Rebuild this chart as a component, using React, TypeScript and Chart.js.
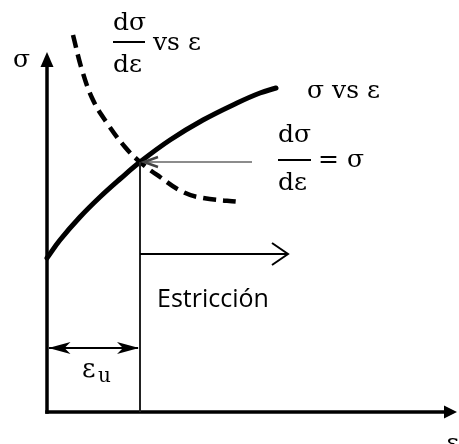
import { useEffect, useRef } from "react";
import { Chart, registerables } from "chart.js";

Chart.register(...registerables);

// True stress–strain curve σ(ε), arbitrary units
const SIGMA_EPS = [0, 0.13, 0.33, 0.53, 0.73, 0.93, 1.23, 1.56, 1.9, 2.13, 2.29];
const SIGMA_VAL = [1.54, 1.72, 1.95, 2.15, 2.33, 2.5, 2.72, 2.92, 3.09, 3.19, 3.24];

// Work-hardening rate dσ/dε
const SLOPE_EPS = [0.26, 0.35, 0.46, 0.6, 0.78, 0.93, 1.13, 1.36, 1.56, 1.94];
const SLOPE_VAL = [3.77, 3.42, 3.12, 2.89, 2.65, 2.5, 2.35, 2.2, 2.14, 2.1];

// Considère point: dσ/dε = σ at the uniform strain ε_u
const EPS_U = 0.93;
const SIGMA_U = 2.5;

// Axis extents
const EPS_AXIS_END = 4.1;
const SIGMA_AXIS_END = 3.6;
const X_RANGE = [-0.47, 4.12];
const Y_RANGE = [-0.32, 4.12];

// Necking arrow level / end, gray pointer start, ε_u bracket level
const NECK_SIGMA = 1.58;
const NECK_EPS_END = 2.41;
const POINTER_EPS_START = 2.05;
const EPS_U_BRACKET_SIGMA = 0.64;

const SERIF = '"DejaVu Serif", serif';
const SANS = '"Open Sans", sans-serif';

const diagramPlugin = {
  id: "considereDiagram",
  afterDatasetsDraw(chart: any) {
    const ctx: CanvasRenderingContext2D = chart.ctx;
    const xs = chart.scales.x;
    const ys = chart.scales.y;
    const px = (v: number) => xs.getPixelForValue(v);
    const py = (v: number) => ys.getPixelForValue(v);

    ctx.save();
    ctx.lineCap = "butt";
    ctx.lineJoin = "miter";

    const x0 = px(0);
    const y0 = py(0);

    // σ axis with arrowhead
    const yTip = py(SIGMA_AXIS_END);
    ctx.strokeStyle = "#000";
    ctx.fillStyle = "#000";
    ctx.lineWidth = 3.5;
    ctx.beginPath();
    ctx.moveTo(x0, y0 + 1.75);
    ctx.lineTo(x0, yTip + 12);
    ctx.stroke();
    ctx.beginPath();
    ctx.moveTo(x0, yTip);
    ctx.lineTo(x0 - 6.5, yTip + 15);
    ctx.lineTo(x0 + 6.5, yTip + 15);
    ctx.closePath();
    ctx.fill();

    // ε axis with arrowhead
    const xTip = px(EPS_AXIS_END);
    ctx.beginPath();
    ctx.moveTo(x0 - 1.75, y0);
    ctx.lineTo(xTip - 10, y0);
    ctx.stroke();
    ctx.beginPath();
    ctx.moveTo(xTip, y0);
    ctx.lineTo(xTip - 13, y0 - 6.5);
    ctx.lineTo(xTip - 13, y0 + 6.5);
    ctx.closePath();
    ctx.fill();

    // Vertical drop from the Considère point to the ε axis
    const xu = px(EPS_U);
    const yu = py(SIGMA_U);
    ctx.strokeStyle = "#222";
    ctx.lineWidth = 2;
    ctx.beginPath();
    ctx.moveTo(xu, yu);
    ctx.lineTo(xu, y0);
    ctx.stroke();

    // Gray pointer to the intersection
    ctx.strokeStyle = "#8c8c8c";
    ctx.lineWidth = 2;
    ctx.beginPath();
    ctx.moveTo(px(POINTER_EPS_START), yu);
    ctx.lineTo(xu + 4, yu);
    ctx.stroke();
    ctx.strokeStyle = "#444";
    ctx.lineWidth = 2.5;
    ctx.beginPath();
    ctx.moveTo(xu + 18, yu - 5);
    ctx.lineTo(xu + 4, yu);
    ctx.lineTo(xu + 18, yu + 5);
    ctx.stroke();

    // Necking arrow
    const yn = py(NECK_SIGMA);
    const xn = px(NECK_EPS_END);
    ctx.strokeStyle = "#000";
    ctx.lineWidth = 2;
    ctx.beginPath();
    ctx.moveTo(xu, yn);
    ctx.lineTo(xn, yn);
    ctx.stroke();
    ctx.beginPath();
    ctx.moveTo(xn - 16, yn - 11);
    ctx.lineTo(xn, yn);
    ctx.lineTo(xn - 16, yn + 11);
    ctx.stroke();

    // ε_u bracket (double arrow)
    const yb = py(EPS_U_BRACKET_SIGMA);
    ctx.beginPath();
    ctx.moveTo(x0 + 2, yb);
    ctx.lineTo(xu - 2, yb);
    ctx.stroke();
    const barb = (tip: number, dir: number) => {
      ctx.beginPath();
      ctx.moveTo(tip, yb);
      ctx.lineTo(tip + dir * 22, yb - 6);
      ctx.lineTo(tip + dir * 16, yb);
      ctx.lineTo(tip + dir * 22, yb + 6);
      ctx.closePath();
      ctx.fill();
    };
    barb(x0 + 1.5, 1);
    barb(xu - 1, -1);

    // Labels
    ctx.fillStyle = "#000";
    ctx.textBaseline = "alphabetic";
    ctx.textAlign = "left";
    const text = (s: string, e: number, sg: number, font: string, maxW?: number) => {
      ctx.font = font;
      if (maxW) ctx.fillText(s, px(e), py(sg), maxW);
      else ctx.fillText(s, px(e), py(sg));
    };
    const fracBar = (e: number, sg: number, w: number) => {
      ctx.fillRect(px(e), py(sg) - 1, w, 2);
    };

    text("σ", -0.34, 3.45, `25px ${SERIF}`);

    // dσ/dε vs ε
    text("dσ", 0.66, 3.82, `25px ${SERIF}`);
    fracBar(0.66, 3.7, 32);
    text("dε", 0.66, 3.4, `25px ${SERIF}`);
    text("vs ε", 1.06, 3.62, `25px ${SERIF}`);

    // σ vs ε
    text("σ vs ε", 2.6, 3.14, `25px ${SERIF}`);

    // dσ/dε = σ
    text("dσ", 2.31, 2.7, `25px ${SERIF}`);
    fracBar(2.31, 2.52, 33);
    text("dε", 2.31, 2.22, `25px ${SERIF}`);
    text("= σ", 2.71, 2.45, `25px ${SERIF}`);

    text("Estricción", 1.1, 1.05, `25px ${SANS}`, 112);

    // ε_u
    text("ε", 0.35, 0.35, `26px ${SERIF}`);
    text("u", 0.51, 0.3, `20px ${SERIF}`);

    // ε axis label
    text("ε", 3.99, -0.39, `25px ${SERIF}`);

    ctx.restore();
  },
};

export default function App() {
  const canvasRef = useRef<HTMLCanvasElement | null>(null);

  useEffect(() => {
    const canvas = canvasRef.current;
    if (!canvas) return;

    const chart = new Chart(canvas, {
      type: "scatter",
      data: {
        datasets: [
          {
            label: "σ vs ε",
            data: SIGMA_EPS.map((e, i) => ({ x: e, y: SIGMA_VAL[i] })),
            showLine: true,
            borderColor: "#000",
            borderWidth: 5,
            pointRadius: 0,
            tension: 0.4,
            borderCapStyle: "round",
          },
          {
            label: "dσ/dε vs ε",
            data: SLOPE_EPS.map((e, i) => ({ x: e, y: SLOPE_VAL[i] })),
            showLine: true,
            borderColor: "#000",
            borderWidth: 4.5,
            borderDash: [13, 7],
            pointRadius: 0,
            tension: 0.4,
          },
        ],
      },
      options: {
        animation: false,
        responsive: false,
        maintainAspectRatio: false,
        layout: { padding: 0 },
        events: [],
        plugins: {
          legend: { display: false },
          tooltip: { enabled: false },
        },
        scales: {
          x: { type: "linear", min: X_RANGE[0], max: X_RANGE[1], display: false },
          y: { type: "linear", min: Y_RANGE[0], max: Y_RANGE[1], display: false },
        },
      },
      plugins: [diagramPlugin],
    });

    return () => chart.destroy();
  }, []);

  return (
    <div style={{ position: "fixed", left: 0, top: 0, width: 459, height: 444, background: "#fff" }}>
      <canvas ref={canvasRef} width={459} height={444} />
    </div>
  );
}
